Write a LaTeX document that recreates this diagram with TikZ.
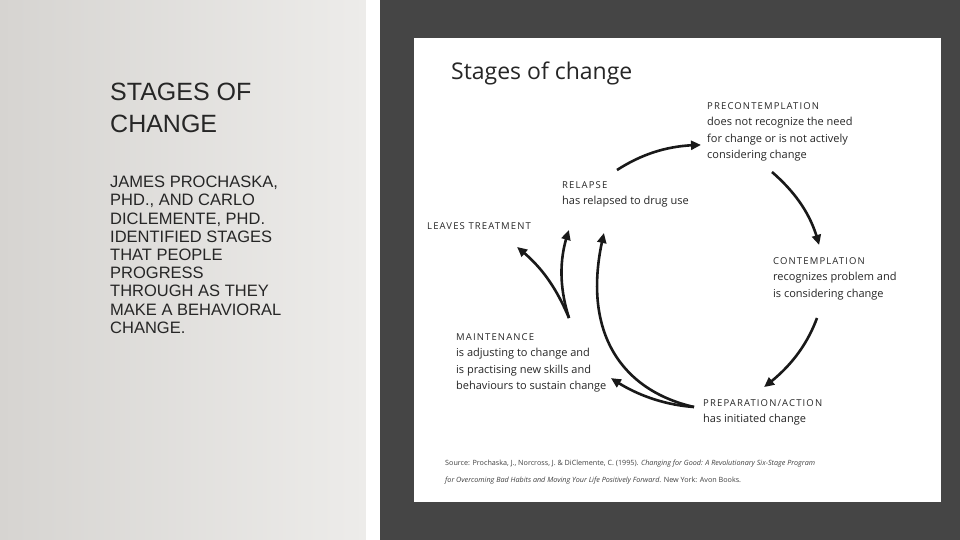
\documentclass[tikz,border=0pt]{standalone}
\usepackage{fontspec}
\setmainfont{Liberation Sans}
\newfontfamily\dfont{Open Sans}
\newfontfamily\capfont[LetterSpace=12]{Open Sans}
\newcommand\capt[1]{{\capfont\fontsize{9.5}{11}\selectfont #1}}
\usetikzlibrary{arrows.meta,bending}
\definecolor{darkbg}{HTML}{454545}
\definecolor{leftA}{HTML}{D6D4D1}
\definecolor{leftB}{HTML}{EDECEA}
\begin{document}
\begin{tikzpicture}[x=1pt,y=-1pt,
  lbl/.style={anchor=north west,inner sep=0pt,align=left,font=\dfont\fontsize{11}{16.5}\selectfont,text=black!85},
  arr/.style={line width=2.6pt,-{Triangle[width=9pt,length=10pt,bend]},black!90}]
\useasboundingbox (0,0) rectangle (960,540);
\shade[left color=leftA,right color=leftB] (0,0) rectangle (366,540);
\fill[white] (366,0) rectangle (380,540);
\fill[darkbg] (380,0) rectangle (960,540);
\fill[white] (414,38) rectangle (941,502);
\node[anchor=north west,inner sep=0pt,align=left,font=\fontsize{25}{32}\selectfont,text=black!85] (t) at (110,83) {STAGES OF\\CHANGE};
\node[anchor=north west,inner sep=0pt,align=left,font=\fontsize{16.5}{18.2}\selectfont,text=black!85] (b) at (110,176) {JAMES PROCHASKA,\\PHD., AND CARLO\\DICLEMENTE, PHD.\\IDENTIFIED STAGES\\THAT PEOPLE\\PROGRESS\\THROUGH AS THEY\\MAKE A BEHAVIORAL\\CHANGE.};
\node[anchor=north west,inner sep=0pt,font=\dfont\fontsize{23}{26}\selectfont,text=black!85] (h) at (451,62) {Stages of change};
\node[lbl] (pre) at (707,102) {\capt{PRECONTEMPLATION}\\does not recognize the need\\for change or is not actively\\considering change};
\node[lbl] (rel) at (562,181) {\capt{RELAPSE}\\has relapsed to drug use};
\node[lbl] (lea) at (427,222) {\capt{LEAVES TREATMENT}};
\node[lbl] (con) at (773,257) {\capt{CONTEMPLATION}\\recognizes problem and\\is considering change};
\node[lbl] (mai) at (456,333) {\capt{MAINTENANCE}\\is adjusting to change and\\is practising new skills and\\behaviours to sustain change};
\node[lbl] (pa) at (703,399) {\capt{PREPARATION/ACTION}\\has initiated change};
\node[anchor=north west,inner sep=0pt,align=left,font=\dfont\fontsize{7.2}{17}\selectfont,text=black!75] (src) at (445,460) {Source: Prochaska, J., Norcross, J. \& DiClemente, C. (1995). \textit{Changing for Good: A Revolutionary Six-Stage Program}\\\textit{for Overcoming Bad Habits and Moving Your Life Positively Forward}. New York: Avon Books.};
\coordinate (a1) at (617,170); \coordinate (a1e) at (701,145);
\coordinate (a2) at (772,172); \coordinate (a2e) at (819,245);
\coordinate (a3) at (817,318); \coordinate (a3e) at (764,387);
\coordinate (a4) at (694,407); \coordinate (a4e) at (611,378);
\coordinate (a5e) at (604,233);
\coordinate (m0) at (569,318); \coordinate (a6e) at (569,230);
\coordinate (a7e) at (517,247);
\draw[arr] (a1) .. controls (645,152) and (672,145) .. (a1e);
\draw[arr] (a2) .. controls (795,192) and (812,215) .. (a2e);
\draw[arr] (a3) .. controls (807,345) and (790,368) .. (a3e);
\draw[arr] (a4) .. controls (665,405) and (635,395) .. (a4e);
\draw[arr] (a4) .. controls (620,390) and (580,330) .. (a5e);
\draw[arr] (m0) .. controls (560,290) and (558,260) .. (a6e);
\draw[arr] (m0) .. controls (555,285) and (540,265) .. (a7e);
\end{tikzpicture}
\end{document}
